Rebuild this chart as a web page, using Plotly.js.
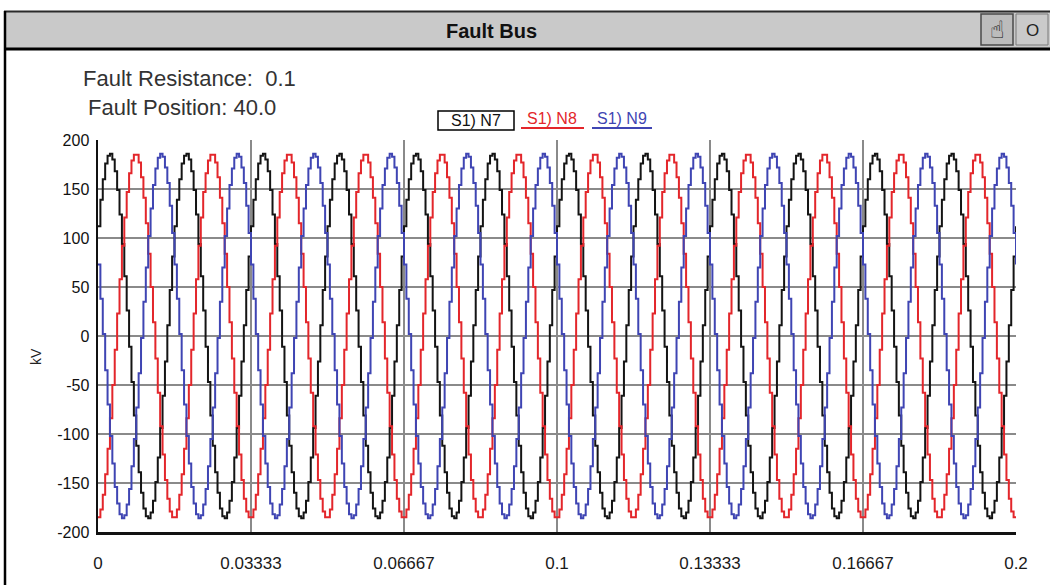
<!DOCTYPE html>
<html>
<head>
<meta charset="utf-8">
<script src="https://cdn.plot.ly/plotly-3.0.1.min.js"></script>
<style>
  html, body { margin: 0; padding: 0; background: #ffffff; }
  #chart { width: 1050px; height: 585px; }
</style>
</head>
<body>
<div id="chart"></div>
<script>
// ---- data ----
// one steady-state 60 Hz cycle, 32 samples per cycle (kV), repeated for 12 cycles in 0.2 s
const sampleStep = 1 / 1920;          // s
const cycles = 12;
const n7Cycle = [112, 139, 160, 176, 184, 186, 180, 168, 149, 124, 94, 61, 26, -11, -47, -81,
                 -112, -139, -160, -176, -184, -186, -180, -168, -149, -124, -94, -61, -26, 11, 47, 81];
const n8Cycle = [-185, -177, -162, -141, -115, -84, -50, -14, 23, 58, 92, 121, 147, 166, 179, 185,
                 185, 177, 162, 141, 115, 84, 50, 14, -23, -58, -92, -121, -147, -166, -179, -185];
const n9Cycle = [73, 38, 2, -35, -70, -102, -130, -154, -171, -182, -186, -183, -172, -156, -133, -105,
                 -73, -38, -2, 35, 70, 102, 130, 154, 171, 182, 186, 183, 172, 156, 133, 105];
const seriesNames = ["S1) N7", "S1) N8", "S1) N9"];
const xTickVals = [0, 0.033333, 0.066667, 0.1, 0.133333, 0.166667, 0.2];
const xTickText = ["0", "0.03333", "0.06667", "0.1", "0.13333", "0.16667", "0.2"];
const yTickVals = [-200, -150, -100, -50, 0, 50, 100, 150, 200];
const yTickText = ["-200", "-150", "-100", "-50", "0", "50", "100", "150", "200"];
const infoLines = ["Fault Resistance:\u00a0\u00a00.1", "Fault Position: 40.0"];
const windowTitle = "Fault Bus";
const yUnit = "kV";

// ---- build the series by repeating the sampled cycle ----
function tile(cycle) {
  const out = [];
  for (let c = 0; c < cycles; c++) out.push(...cycle);
  out.push(cycle[0]);
  return out;
}
const nSamples = cycles * n7Cycle.length + 1;
const t = [];
for (let i = 0; i < nSamples; i++) t.push(i * sampleStep);

const colors = ["#141414", "#e3262b", "#3f45b3"];
const ys = [tile(n7Cycle), tile(n8Cycle), tile(n9Cycle)];
const traces = ys.map((y, i) => ({
  x: t, y: y, type: "scatter", mode: "lines", name: seriesNames[i],
  line: { color: colors[i], width: 2, shape: "hv" }, showlegend: false, hoverinfo: "skip"
}));

// ---- decoration helpers (pixel -> paper) ----
const L = 98, R = 1016, T = 140, B = 532;
const px = x => (x - L) / (R - L);
const py = y => (B - y) / (B - T);

const shapes = [
  // title bar
  { type: "rect", xref: "paper", yref: "paper", x0: px(5), x1: px(1060), y0: py(48), y1: py(11),
    fillcolor: "#c9c9c9", line: { width: 0 }, layer: "below" },
  { type: "line", xref: "paper", yref: "paper", x0: px(4), x1: px(1060), y0: py(11.5), y1: py(11.5),
    line: { color: "#2a2a2a", width: 2 } },
  { type: "line", xref: "paper", yref: "paper", x0: px(4), x1: px(1060), y0: py(49), y1: py(49),
    line: { color: "#000000", width: 3 } },
  // window left border
  { type: "line", xref: "paper", yref: "paper", x0: px(5), x1: px(5), y0: py(11), y1: py(590),
    line: { color: "#000000", width: 2.5 } },
  // icon boxes
  { type: "rect", xref: "paper", yref: "paper", x0: px(981), x1: px(1013), y0: py(45), y1: py(14),
    fillcolor: "#bcbcbc", line: { color: "#4a4a4a", width: 1.5 } },
  { type: "rect", xref: "paper", yref: "paper", x0: px(1016), x1: px(1048), y0: py(45), y1: py(14),
    fillcolor: "#cacaca", line: { color: "#7a7a7a", width: 1 } },
  // legend frame and underlines
  { type: "rect", xref: "paper", yref: "paper", x0: px(438), x1: px(514), y0: py(130), y1: py(111),
    line: { color: "#000000", width: 1.5 } },
  { type: "line", xref: "paper", yref: "paper", x0: px(521), x1: px(584), y0: py(128), y1: py(128),
    line: { color: colors[1], width: 2 } },
  { type: "line", xref: "paper", yref: "paper", x0: px(592), x1: px(652), y0: py(128), y1: py(128),
    line: { color: colors[2], width: 2 } }
];

const narrow = "Liberation Sans Narrow, Arial Narrow, Liberation Sans, Arial, sans-serif";
const sans = "Liberation Sans, Arial, sans-serif";
function note(text, x, y, font, extra) {
  return Object.assign({ text: text, xref: "paper", yref: "paper", x: px(x), y: py(y),
    xanchor: "center", yanchor: "middle", showarrow: false, font: font }, extra || {});
}
const annotations = [
  note("<b>" + windowTitle + "</b>", 491, 31, { family: narrow, size: 20, color: "#111" }),
  note("\u261D", 997, 30, { family: "DejaVu Sans", size: 24, color: "#111" }),
  note("O", 1032, 30, { family: sans, size: 17, color: "#222" }),
  note(infoLines[0], 81, 78, { family: sans, size: 22, color: "#333" }, { xanchor: "left" }),
  note(infoLines[1], 86, 108, { family: sans, size: 22, color: "#333" }, { xanchor: "left" }),
  note(seriesNames[0], 476, 120, { family: narrow, size: 16, color: "#111" }),
  note(seriesNames[1], 552, 119, { family: narrow, size: 16, color: colors[1] }),
  note(seriesNames[2], 622, 119, { family: narrow, size: 16, color: colors[2] }),
  note(yUnit, 36, 356, { family: sans, size: 14, color: "#222" }, { textangle: -90 })
];

const layout = {
  width: 1050, height: 585,
  margin: { l: L, r: 1050 - R, t: T, b: 585 - B, pad: 0 },
  paper_bgcolor: "#ffffff", plot_bgcolor: "#ffffff",
  showlegend: false,
  xaxis: {
    range: [0, 0.2], tickmode: "array", tickvals: xTickVals, ticktext: xTickText,
    showgrid: true, gridcolor: "#8a8a8a", gridwidth: 1.5, zeroline: false,
    showline: true, linecolor: "#111", linewidth: 2.5, ticks: "",
    ticklabelstandoff: 14,
    tickfont: { family: sans, size: 17, color: "#1a1a1a" }, fixedrange: true
  },
  yaxis: {
    range: [-200, 200], tickmode: "array", tickvals: yTickVals, ticktext: yTickText,
    showgrid: true, gridcolor: "#8a8a8a", gridwidth: 1.5, zeroline: false,
    showline: true, linecolor: "#111", linewidth: 2.5, ticks: "",
    ticklabelstandoff: 3,
    tickfont: { family: narrow, size: 16, color: "#111" }, fixedrange: true
  },
  shapes: shapes,
  annotations: annotations
};

Plotly.newPlot("chart", traces, layout, { displayModeBar: false, staticPlot: true });
</script>
</body>
</html>
